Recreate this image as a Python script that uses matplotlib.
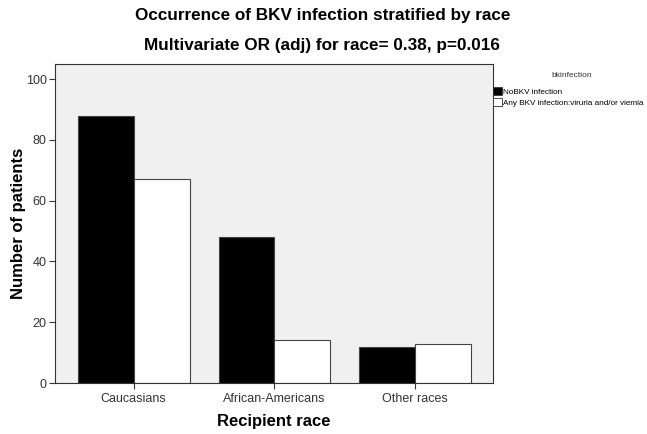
import numpy as np
import matplotlib
matplotlib.use('Agg')
import matplotlib.pyplot as plt
from matplotlib.patches import Patch

races = ["Caucasians", "African-Americans", "Other races"]
no_bkv = [88, 48, 12]
any_bkv = [67, 14, 13]
series_labels = ["NoBKV infection", "Any BKV infection:viruria and/or viemia"]

plt.rcParams['font.family'] = ['Liberation Sans', 'DejaVu Sans']

fig = plt.figure(figsize=(6.47, 4.34), dpi=100)
ax = fig.add_axes([0.085, 0.1175, 0.677, 0.735])
ax.set_facecolor('#f0f0f0')

x = np.arange(len(races))
w = 0.397
ax.bar(x - w / 2, no_bkv, w, color='black', edgecolor='#444444', linewidth=0.8)
ax.bar(x + w / 2, any_bkv, w, color='white', edgecolor='#444444', linewidth=0.8)

ax.set_xlim(-0.56, 2.555)
ax.set_ylim(0, 105)
ax.set_yticks([0, 20, 40, 60, 80, 100])
ax.set_xticks(x)
ax.set_xticklabels(races)
ax.tick_params(axis='both', labelsize=9, direction='out', length=4, width=0.8, colors='#333333')
ax.tick_params(axis='x', pad=3)
ax.tick_params(axis='y', pad=2)
for s in ax.spines.values():
    s.set_color('#333333')
    s.set_linewidth(0.8)

ax.set_ylabel("Number of patients", fontsize=12, fontweight='bold', labelpad=0)
ax.set_xlabel("Recipient race", fontsize=12, fontweight='bold', labelpad=7)

fig.text(0.498, 0.965, "Occurrence of BKV infection stratified by race",
         ha='center', va='center', fontsize=12.3, fontweight='bold')
fig.text(0.498, 0.895, "Multivariate OR (adj) for race= 0.38, p=0.016",
         ha='center', va='center', fontsize=12.3, fontweight='bold')

fig.text(0.884, 0.827, "bkinfection", ha='center', va='center', fontsize=6, color='#333333')
handles = [Patch(facecolor='black', edgecolor='#333333', linewidth=0.6),
           Patch(facecolor='white', edgecolor='#333333', linewidth=0.6)]
fig.legend(handles, series_labels, loc='upper left', bbox_to_anchor=(0.762, 0.80),
           frameon=False, fontsize=5.9, handlelength=1.05, handleheight=1.1,
           handletextpad=0.2, labelspacing=0.3, borderaxespad=0, borderpad=0)

fig.savefig("out.png", dpi=100)
